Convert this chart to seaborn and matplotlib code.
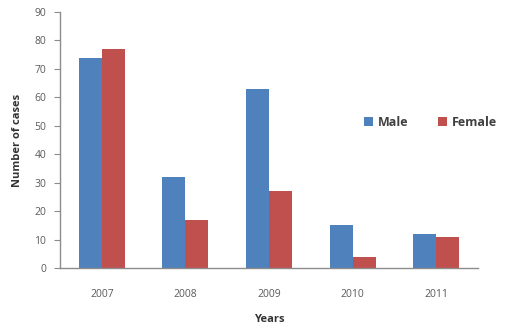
import matplotlib
matplotlib.use("Agg")
import matplotlib.pyplot as plt
import seaborn as sns
import pandas as pd

years = ["2007", "2008", "2009", "2010", "2011"]
male = [74, 32, 63, 15, 12]
female = [77, 17, 27, 4, 11]
yticks = [0, 10, 20, 30, 40, 50, 60, 70, 80, 90]

df = pd.DataFrame({
    "Year": years * 2,
    "Cases": male + female,
    "Sex": ["Male"] * len(years) + ["Female"] * len(years),
})

sns.set_style("white")
plt.rcParams["font.family"] = ["Open Sans", "DejaVu Sans"]

fig = plt.figure(figsize=(5.05, 3.26), dpi=100)
ax = fig.add_axes([0.1188, 0.178, 0.8277, 0.785])

sns.barplot(data=df, x="Year", y="Cases", hue="Sex", order=years,
            hue_order=["Male", "Female"],
            palette={"Male": "#4F81BD", "Female": "#C0504D"},
            width=0.55, saturation=1, linewidth=0, ax=ax)

ax.set_xlim(-0.5, 4.5)
ax.set_ylim(0, 90)
ax.set_yticks(yticks)
ax.set_yticklabels([str(t) for t in yticks])

axis_col = "#8C8C8C"
for side in ["top", "right"]:
    ax.spines[side].set_visible(False)
for side in ["left", "bottom"]:
    ax.spines[side].set_color(axis_col)
    ax.spines[side].set_linewidth(1.0)

ax.tick_params(axis="y", which="both", left=True, length=4, width=0.8,
               color=axis_col, labelsize=7.5, labelcolor="#5A5A5A", pad=6)
ax.tick_params(axis="x", bottom=False, labelsize=7.5, labelcolor="#5A5A5A", pad=12)

ax.set_xlabel("Years", fontsize=8, fontweight="bold", color="#333333", labelpad=10)
ax.set_ylabel("Number of cases", fontsize=8, fontweight="bold", color="#333333", labelpad=8)

leg = ax.legend(loc="center left", bbox_to_anchor=(0.70, 0.57), ncol=2,
                frameon=False, fontsize=9, handlelength=0.7, handleheight=0.7,
                columnspacing=2.4, handletextpad=0.4)
for t in leg.get_texts():
    t.set_fontweight("bold")
    t.set_color("#404040")

fig.savefig("out.png", dpi=100)
